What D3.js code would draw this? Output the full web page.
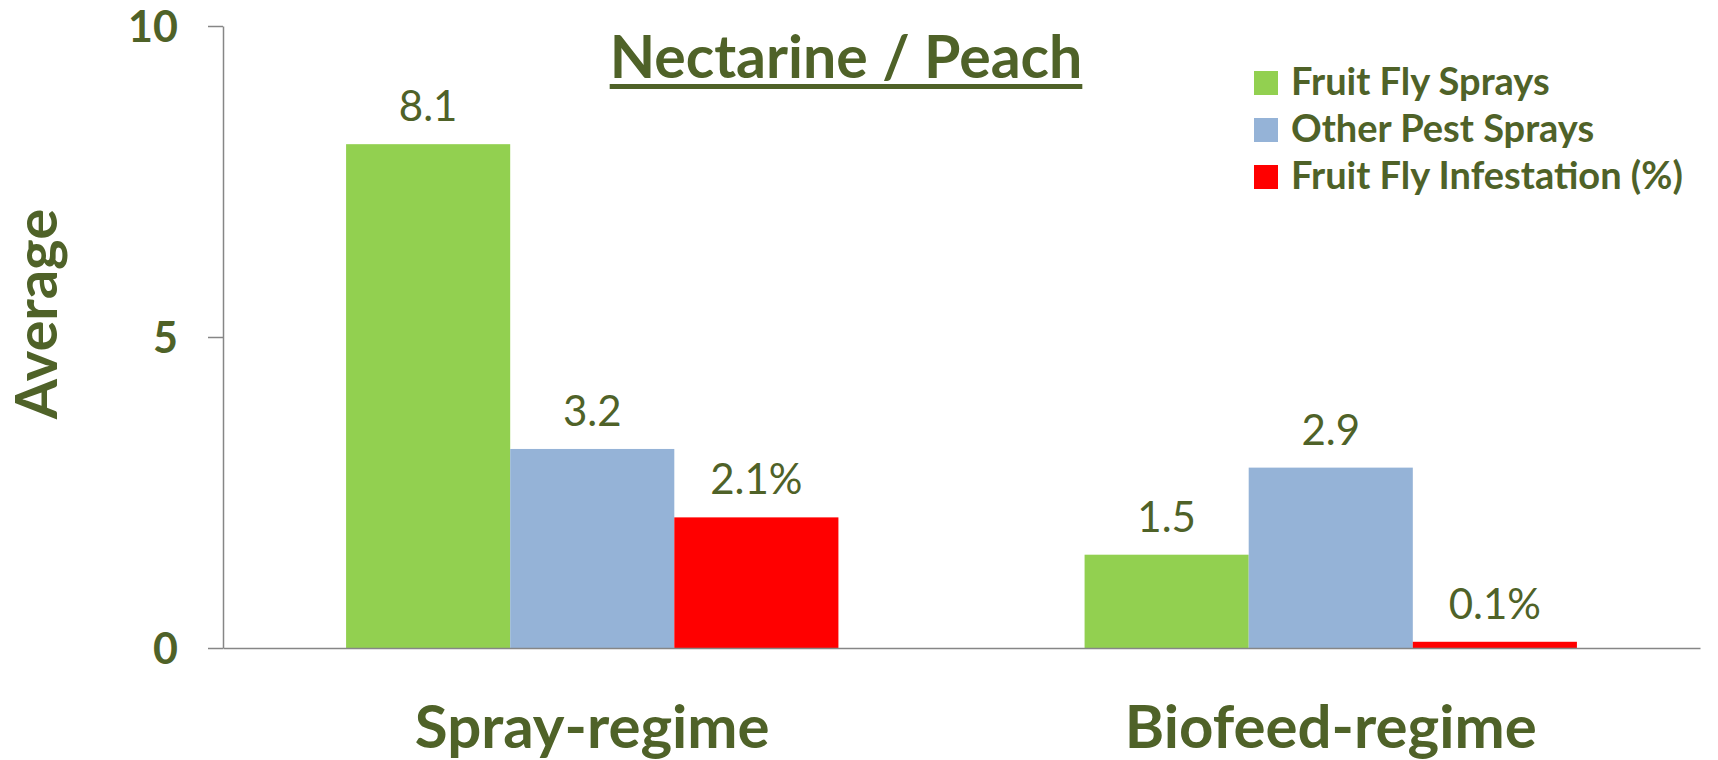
<!DOCTYPE html>
<html>
<head>
<meta charset="utf-8">
<script src="https://cdn.jsdelivr.net/npm/d3@7"></script>
<style>
  body { margin: 0; background: #fff; }
  text { font-family: Lato, "Open Sans", sans-serif; fill: #4F6228; }
</style>
</head>
<body>
<div id="graphique"></div>
<script>
// Données du graphique
const regimes = ["Spray-regime", "Biofeed-regime"];
const series = ["Fruit Fly Sprays", "Other Pest Sprays", "Fruit Fly Infestation (%)"];
const fruitFlySprays = [8.1, 1.5];
const otherPestSprays = [3.2, 2.9];
const infestation = [2.1, 0.1];
const suffixes = ["", "", "%"];
const graduations = [0, 5, 10];
const couleurs = ["#92D050", "#95B3D7", "#FF0000"];

// Dimensions
const largeur = 1718;
const hauteur = 760;
const marge = {haut: 26, droite: 18, bas: 112, gauche: 223};
const couleurTexte = "#4F6228";
const couleurAxe = "#868686";

const svg = d3.select("#graphique")
    .append("svg")
    .attr("width", largeur)
    .attr("height", hauteur);

// Échelles
const x0 = d3.scaleBand()
    .domain(regimes)
    .range([marge.gauche, largeur - marge.droite])
    .padding(0);

const x1 = d3.scaleBand()
    .domain(series)
    .range([0, x0.bandwidth()])
    .paddingInner(0)
    .paddingOuter(0.75);

const y = d3.scaleLinear()
    .domain([0, 10])
    .range([hauteur - marge.bas, marge.haut]);

// On regroupe les valeurs par régime
const valeurs = [fruitFlySprays, otherPestSprays, infestation];
const donnees = regimes.map((regime, i) => ({
    regime,
    barres: series.map((serie, j) => ({serie, j, valeur: valeurs[j][i]}))
}));

// Barres
const groupes = svg.append("g")
    .selectAll("g")
    .data(donnees)
    .enter()
    .append("g")
    .attr("transform", d => `translate(${x0(d.regime)},0)`);

groupes.selectAll("rect")
    .data(d => d.barres)
    .enter()
    .append("rect")
    .attr("x", d => x1(d.serie))
    .attr("y", d => y(d.valeur))
    .attr("width", x1.bandwidth())
    .attr("height", d => y(0) - y(d.valeur))
    .style("fill", d => couleurs[d.j]);

// Étiquettes de valeurs
groupes.selectAll("text")
    .data(d => d.barres)
    .enter()
    .append("text")
    .attr("x", d => x1(d.serie) + x1.bandwidth() / 2)
    .attr("y", d => y(d.valeur) - 23)
    .attr("text-anchor", "middle")
    .style("font-size", "42px")
    .style("font-weight", "400")
    .text(d => d3.format(".1f")(d.valeur) + suffixes[d.j]);

// Axe Y
const axeY = svg.append("g")
    .attr("transform", `translate(${marge.gauche},0)`)
    .call(d3.axisLeft(y).tickValues(graduations).tickSize(15).tickSizeOuter(0).tickPadding(30).tickFormat(d3.format("d")));

axeY.select(".domain").attr("stroke", couleurAxe).attr("stroke-width", 1.5);
axeY.selectAll(".tick line").attr("stroke", couleurAxe).attr("stroke-width", 1.5);
axeY.selectAll(".tick text")
    .attr("fill", couleurTexte)
    .attr("dy", "0.36em")
    .style("font-family", "Lato, sans-serif")
    .style("font-size", "43px")
    .style("font-weight", "700");

// Axe X
const axeX = svg.append("g")
    .attr("transform", `translate(0,${y(0)})`)
    .call(d3.axisBottom(x0).tickSize(0).tickSizeOuter(0).tickPadding(0));

axeX.select(".domain").attr("stroke", couleurAxe).attr("stroke-width", 1.5);
axeX.selectAll(".tick text")
    .attr("fill", couleurTexte)
    .attr("dy", null)
    .attr("y", 100)
    .style("font-family", "Lato, sans-serif")
    .style("font-size", "60px")
    .style("font-weight", "700");

// Titre de l'axe Y
svg.append("text")
    .attr("transform", `translate(57, 314) rotate(-90)`)
    .attr("text-anchor", "middle")
    .style("font-size", "58px")
    .style("font-weight", "700")
    .text("Average");

// Titre souligné
const titre = svg.append("text")
    .attr("x", 846)
    .attr("y", 78)
    .attr("text-anchor", "middle")
    .style("font-size", "59px")
    .style("font-weight", "700")
    .text("Nectarine / Peach");

const longueurTitre = titre.node().getComputedTextLength();
svg.append("rect")
    .attr("x", 846 - longueurTitre / 2)
    .attr("y", 84)
    .attr("width", longueurTitre)
    .attr("height", 5)
    .style("fill", couleurTexte);

// Légende
const legende = svg.append("g")
    .attr("transform", "translate(1254, 71)")
    .selectAll("g")
    .data(series)
    .enter()
    .append("g")
    .attr("transform", (d, i) => `translate(0, ${i * 47})`);

legende.append("rect")
    .attr("width", 24)
    .attr("height", 24)
    .style("fill", (d, i) => couleurs[i]);

legende.append("text")
    .attr("x", 37)
    .attr("y", 24)
    .style("font-size", "38px")
    .style("font-weight", "700")
    .text(d => d);
</script>
</body>
</html>
